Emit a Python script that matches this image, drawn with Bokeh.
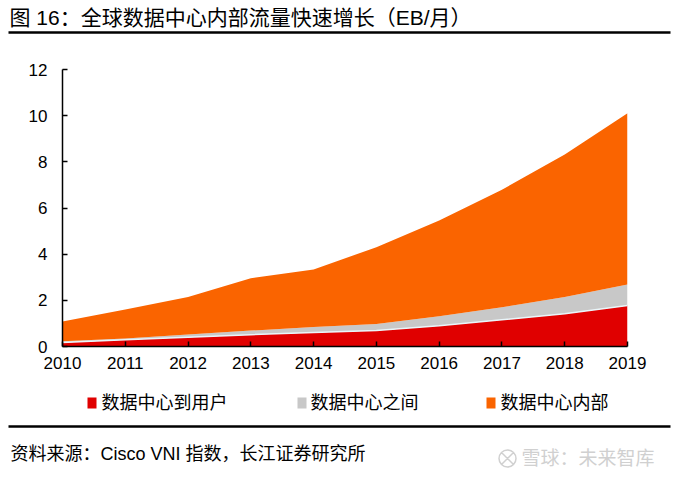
from bokeh.plotting import figure
from bokeh.layouts import column
from bokeh.models import (ColumnDataSource, Range1d, FixedTicker, Label, BoxAnnotation)
from bokeh.embed import file_html
from bokeh.resources import INLINE

# ---- data ----
years = [2010, 2011, 2012, 2013, 2014, 2015, 2016, 2017, 2018, 2019]
dc_to_user = [0.17, 0.29, 0.40, 0.51, 0.61, 0.69, 0.90, 1.16, 1.42, 1.78]
between_dc = [0.06, 0.06, 0.12, 0.18, 0.23, 0.29, 0.41, 0.54, 0.72, 0.91]
within_dc = [0.85, 1.25, 1.62, 2.27, 2.50, 3.32, 4.15, 5.09, 6.18, 7.42]
series_names = ["数据中心到用户", "数据中心之间", "数据中心内部"]
colors = ["#E00000", "#C8C8C8", "#FA6400"]
y_ticks = [0, 2, 4, 6, 8, 10, 12]

title_text = "图 16：全球数据中心内部流量快速增长（EB/月）"
source_text = "资料来源：Cisco VNI 指数，长江证券研究所"
watermark_text = "雪球：未来智库"

FONT = "Liberation Sans, Noto Sans CJK SC"

W, H = 679, 478
TOP_H = 40          # title strip: page y 0..40
BOT_Y0 = 385        # bottom strip: page y 385..478
FL, FR, FT, FB = 62, 627, 69, 346   # chart frame edges in page pixels


def strip(y0, y1):
    f = figure(width=W, height=y1 - y0, output_backend="svg", toolbar_location=None,
               x_range=Range1d(0, W), y_range=Range1d(y1, y0),
               min_border=0, min_border_left=0, min_border_right=0,
               min_border_top=0, min_border_bottom=0, frame_align=False)
    f.axis.visible = False
    f.grid.visible = False
    f.outline_line_color = None
    return f


def label(f, x, y, text, size, color="black", font=FONT):
    f.add_layout(Label(x=x, y=y, text=text, text_font=font, text_font_size=size,
                       text_color=color, text_align="left", text_baseline="middle"))


# ---- title strip ----
top = strip(0, TOP_H)
label(top, 9, 17, title_text, "21px")
top.segment(x0=[8], y0=[32], x1=[670], y1=[32], line_color="black", line_width=2.5)

# ---- chart ----
src = ColumnDataSource(dict(year=years, a=dc_to_user, b=between_dc, c=within_dc))
p = figure(width=W, height=BOT_Y0 - TOP_H, output_backend="svg", toolbar_location=None,
           x_range=Range1d(2010, 2019), y_range=Range1d(0, 12),
           min_border_left=FL, min_border_right=W - FR, min_border_top=FT - TOP_H,
           min_border_bottom=BOT_Y0 - FB, frame_align=False)
p.outline_line_color = None
p.xgrid.visible = False
p.ygrid.visible = False

p.varea_stack(["a", "b", "c"], x="year", source=src, color=colors)
p.line(years, dc_to_user, line_color="#EAF6FA", line_width=1.5)

p.xaxis.ticker = FixedTicker(ticks=years)
p.yaxis.ticker = FixedTicker(ticks=y_ticks)
for ax in (p.xaxis[0], p.yaxis[0]):
    ax.axis_line_color = "black"
    ax.axis_line_width = 1.5
    ax.major_tick_line_color = "black"
    ax.major_tick_line_width = 1.5
    ax.major_tick_in = 5
    ax.major_tick_out = 0
    ax.minor_tick_line_color = None
    ax.major_label_text_font = "Liberation Sans"
    ax.major_label_text_font_size = "17px"
    ax.major_label_text_color = "black"
p.yaxis.major_label_standoff = 15
p.xaxis.major_label_standoff = 10

# ---- bottom strip: legend, source, watermark ----
bot = strip(BOT_Y0, H)
leg_sq_x = [87, 297, 486]
leg_tx_x = [101, 310, 500]
for bx, tx, name, col in zip(leg_sq_x, leg_tx_x, series_names, colors):
    bot.add_layout(BoxAnnotation(left=bx, right=bx + 9, top=397, bottom=408,
                                 fill_color=col, fill_alpha=1, line_color=None))
    label(bot, tx, 402, name, "18px")

bot.segment(x0=[8], y0=[426], x1=[670], y1=[426], line_color="black", line_width=2.5)
label(bot, 10, 453, source_text, "18px")
bot.scatter(x=[507], y=[458], marker="circle_x", size=17, fill_color=None,
            line_color="#D0D0D0", line_width=1.5)
label(bot, 521, 458, watermark_text, "19px", color="#D0D0D0")

layout = column(top, p, bot, spacing=0)
open("out.html", "w").write(file_html(layout, INLINE))
